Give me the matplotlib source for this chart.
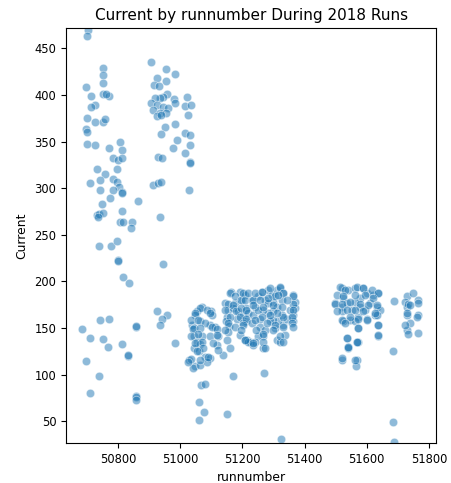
import matplotlib
matplotlib.use("Agg")
import matplotlib.pyplot as plt

# values, grouped by run block
left_run = [50705, 50701, 50751, 50751, 50753, 50697, 50753, 50770, 50761, 50714,
            50725, 50714, 50701, 50725, 50751, 50759, 50697, 50701, 50699, 50725,
            50806, 50771, 50812, 50785, 50801, 50812, 50798, 50733, 50758, 50742,
            50783, 50796, 50710, 50804, 50812, 50812, 50742, 50783, 50774, 50865,
            50748, 50732, 50740, 50753, 50737, 50812, 50806, 50817, 50844, 50841,
            50740, 50777, 50796, 50801, 50801, 50817, 50836, 50770, 50742, 50683,
            50858, 50858, 50710, 50751, 50768, 50812, 50833, 50833, 50697, 50738,
            50710, 50858, 50858, 50858]
left_cur = [470, 463.5, 428.5, 421, 413, 408, 400.7, 399, 400.7, 399,
            389, 387.4, 375, 370.6, 370.6, 374, 363.5, 360, 347.4, 346.3,
            350, 343.4, 341, 332.7, 330, 332, 320.6, 320.6, 315, 308.8,
            310, 307, 305.2, 301.6, 296.2, 295, 298, 298, 289.8, 286.3,
            282.7, 271.2, 272.3, 273, 268.8, 275.8, 264, 264, 264, 257,
            238, 238, 243.3, 223, 222, 205, 198, 160, 158.6, 148.7,
            151.5, 152, 139.7, 138, 130, 132.6, 120, 121, 114.7, 98.6,
            80.7, 77.5, 76, 72.2]

upper_run = [50905, 50954, 50982, 50926, 50954, 50917, 50932, 50957, 50946, 50935,
             51021, 50980, 50919, 50905, 50924, 50983, 51015, 51034, 50946, 50962,
             50913, 50935, 50954, 50924, 50940, 51026, 50983, 50951, 50938, 51015,
             51031, 50989, 50978, 51031, 51015, 50928, 50942, 51031, 51031, 50913,
             50930, 50940, 51029, 50935, 50944, 50926, 50958, 50942, 50935, 50983]
upper_cur = [435, 427.5, 423, 418.5, 415, 411, 409.5, 400.7, 398, 396.4,
             398, 395.6, 396.4, 391, 389, 391, 388.5, 389, 387.4, 385.7,
             384, 381, 381, 377.7, 379, 378.5, 368.5, 366, 357.8, 359,
             357, 351.7, 343.4, 346.3, 338, 333.8, 332, 328.4, 327, 303.4,
             305.2, 307, 298, 269.4, 218.7, 168.3, 164, 159.4, 153.3, 133.7]

mid_run = [51069, 51053, 51048, 51098, 51101, 51064, 51037, 51043, 51096, 51112,
           51043, 51069, 51053, 51123, 51043, 51064, 51118, 51059, 51080, 51096,
           51139, 51030, 51048, 51040, 51064, 51085, 51066, 51080, 51062, 51077,
           51062, 51152, 51169, 51144, 51155, 51152, 51148, 51158, 51155, 51152,
           51160, 51163, 51193, 51198, 51177, 51171, 51187, 51203, 51182, 51212,
           51214, 51193,
           51063, 51085, 51095, 51047, 51036, 51058, 51079, 51101, 51117, 51042,
           51063, 51036, 51058, 51069, 51095, 51117, 51047, 51074, 51106, 51122,
           51053, 51090, 51036, 51026, 51063, 51160, 51176, 51208, 51197, 51154,
           51170, 51144, 51181, 51213, 51219, 51160, 51192, 51154, 51203, 51208,
           51224, 51176, 51144]
mid_cur = [173, 168, 164, 168, 164, 157, 153, 150, 153, 151,
           141, 141, 135, 141, 129, 133, 132, 125, 119, 118,
           121, 116, 109, 107, 110, 114, 89, 90, 71, 60,
           51, 58, 99, 177, 169, 162, 157, 152, 146, 137,
           129, 189, 189, 180, 177, 171, 168, 164, 160, 157,
           137, 143,
           171, 169, 166, 166, 159, 159, 155, 151, 149, 149,
           150, 141, 144, 135, 141, 143, 134, 128, 134, 126,
           125, 119, 117, 114, 116, 187, 184, 185, 180, 176,
           175, 169, 168, 171, 166, 162, 162, 155, 155, 137,
           135, 151, 148]

center_run = [51203, 51208, 51197, 51213, 51230, 51240, 51251, 51262, 51272, 51283,
              51294, 51299, 51310, 51321, 51331, 51326, 51310, 51299, 51283, 51267,
              51256, 51235, 51213, 51203, 51197, 51230, 51256, 51272, 51267, 51251,
              51240, 51219, 51208, 51235, 51267, 51310, 51321, 51337, 51331, 51315,
              51305, 51364, 51369, 51369, 51364, 51364, 51353, 51342, 51299, 51288,
              51326, 51283, 51235, 51219, 51251, 51270, 51323,
              51240, 51262, 51288, 51320, 51331, 51304, 51283, 51256, 51235, 51267,
              51299, 51326, 51363, 51363, 51363, 51358, 51358, 51331, 51310, 51288,
              51262, 51240, 51278, 51304, 51331, 51245, 51267, 51299, 51320, 51267,
              51235, 51331, 51272, 51363, 51315, 51342]
center_cur = [187, 180, 171, 169, 180, 173, 184, 189, 180, 191,
              185, 178, 191, 193, 187, 180, 173, 168, 166, 169,
              160, 164, 160, 153, 148, 155, 151, 148, 141, 141,
              135, 135, 137, 132, 128, 137, 135, 143, 153, 157,
              150, 185, 178, 171, 164, 157, 169, 160, 159, 157,
              164, 177, 180, 187, 169, 102, 31,
              187, 189, 193, 194, 187, 184, 182, 180, 175, 173,
              175, 173, 184, 176, 169, 162, 155, 162, 166, 164,
              162, 159, 155, 153, 151, 148, 144, 148, 141, 135,
              134, 135, 128, 151, 185, 180]

late_run = [51497, 51540, 51572,
            51519, 51525, 51519, 51541, 51562, 51589, 51600, 51578, 51562, 51535,
            51552, 51578, 51594, 51610, 51621, 51637, 51632, 51643, 51627, 51600,
            51573, 51546, 51525, 51519, 51562, 51573, 51535, 51568, 51541, 51519,
            51568, 51565, 51637, 51637, 51632,
            51514, 51530, 51568, 51589, 51616, 51637, 51503, 51525, 51562, 51595,
            51621, 51498, 51520, 51546, 51578, 51605, 51632, 51503, 51536, 51562,
            51589, 51627, 51520, 51546, 51573, 51600, 51530, 51573, 51637, 51637,
            51536, 51568, 51541, 51520, 51562]
late_cur = [177, 130, 135,
            193, 182, 173, 191, 193, 193, 187, 182, 178, 177,
            169, 173, 169, 177, 185, 187, 173, 169, 164, 160,
            162, 159, 157, 168, 157, 150, 139, 135, 129, 116,
            116, 109, 153, 141, 164,
            194, 191, 194, 193, 191, 187, 185, 184, 185, 185,
            182, 176, 176, 178, 176, 175, 175, 168, 169, 169,
            168, 166, 159, 162, 160, 159, 155, 150, 153, 143,
            139, 135, 130, 118, 116]

last_run = [51686, 51728, 51723, 51750, 51766, 51766, 51728, 51728, 51739, 51728,
            51766, 51761, 51723, 51734, 51766, 51683, 51683, 51688,
            51734, 51729, 51739]
last_cur = [179, 184, 178, 187, 180, 177, 173, 164, 155, 148,
            164, 162, 153, 144, 145, 125, 49, 28,
            176, 166, 175]

runnumber = left_run + upper_run + mid_run + center_run + late_run + last_run
current = left_cur + upper_cur + mid_cur + center_cur + late_cur + last_cur

fig = plt.figure(figsize=(4.52, 4.83), dpi=100)
ax = fig.add_axes([0.146, 0.083, 0.819, 0.859])
ax.scatter(runnumber, current, s=37, color="#1f77b4", alpha=0.5,
           edgecolor="white", linewidth=0.6)

ax.set_xlim(50633, 51823)
ax.set_ylim(26.7, 471.8)
ax.set_xticks([50800, 51000, 51200, 51400, 51600, 51800])
ax.set_yticks([50, 100, 150, 200, 250, 300, 350, 400, 450])
ax.tick_params(labelsize=8.3)
ax.set_title("Current by runnumber During 2018 Runs", fontsize=11)
ax.set_xlabel("runnumber", fontsize=8.9)
ax.set_ylabel("Current", fontsize=8.9)

fig.savefig("out.png", dpi=100)
